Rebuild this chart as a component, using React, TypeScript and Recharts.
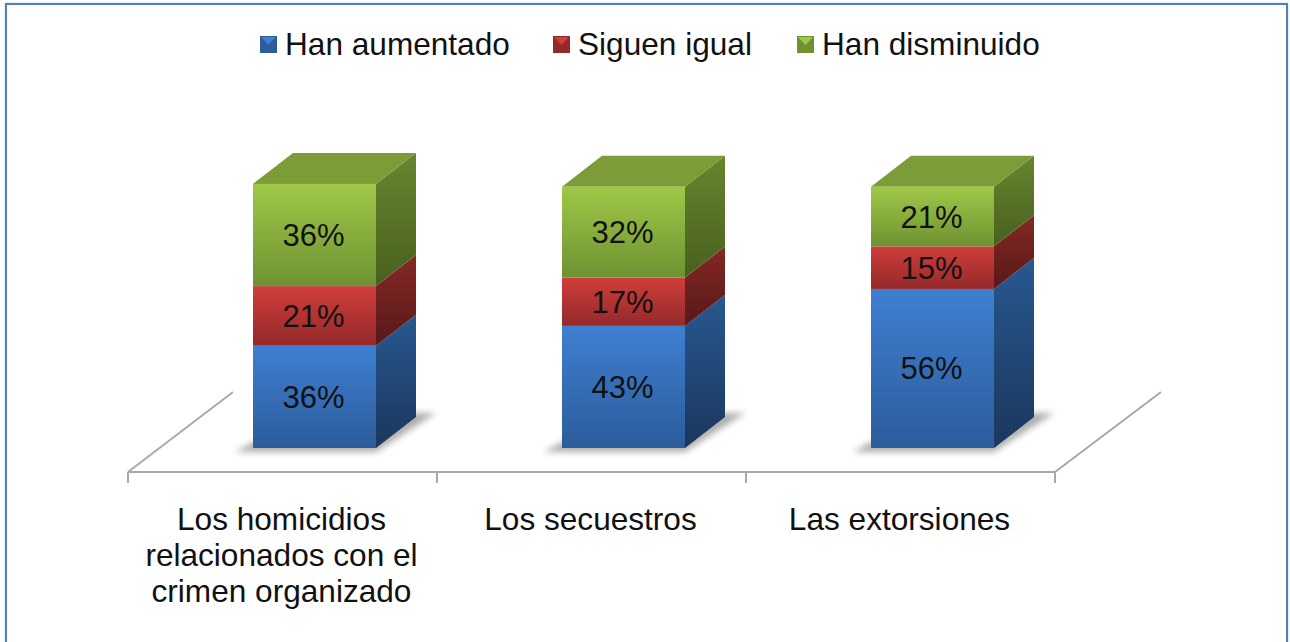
import { Bar, BarChart, LabelList, Legend, XAxis, YAxis } from "recharts";

const categories = [
  "Los homicidios relacionados con el crimen organizado",
  "Los secuestros",
  "Las extorsiones",
];
const categoryLines = [
  ["Los homicidios", "relacionados con el", "crimen organizado"],
  ["Los secuestros"],
  ["Las extorsiones"],
];

const aumentado = [36, 43, 56];
const igual = [21, 17, 15];
const disminuido = [36, 32, 21];

const seriesNames = ["Han aumentado", "Siguen igual", "Han disminuido"];
const seriesKeys = ["aumentado", "igual", "disminuido"];

// front top, front bottom, side top, side bottom, top face
const seriesColors = [
  ["#3F7FD1", "#2C5C9B", "#285890", "#1B375D", "#2E5F9E"],
  ["#CF3E3B", "#95292A", "#852824", "#571919", "#A53030"],
  ["#9FC847", "#6E9232", "#66862E", "#48601F", "#7B9C36"],
];

const data = categories.map((name, i) => ({
  name,
  aumentado: aumentado[i],
  igual: igual[i],
  disminuido: disminuido[i],
}));

const FONT = "'Liberation Sans', Arial, sans-serif";
const FONT_SIZE = 31.6;
const AXIS_GRAY = "#A8A8A8";

// the plot floor sits below and to the left of the boxes, like the old 3D office charts
const BAND = 309;
const SHIFT_X = 32;
const LIFT_Y = 24;
const DEPTH_X = 40;
const DEPTH_Y = 31;

function makeBox(index: number) {
  const isFirst = index === 0;
  const isLast = index === seriesKeys.length - 1;

  return function Box(props: any) {
    const x = props.x + SHIFT_X;
    const y = props.y - LIFT_Y;
    const { width, height } = props;
    const right = x + width;
    const bottom = y + height;

    return (
      <g>
        {isFirst && (
          <polygon
            points={`${x - 18},${bottom + 4} ${right},${bottom + 4} ${right + 60},${bottom - 35} ${right + 36},${bottom - 35} ${right},${bottom - 8} ${x},${bottom - 6}`}
            fill="#777"
            opacity={0.6}
            filter="url(#boxShadow)"
          />
        )}
        <polygon
          points={`${right},${y} ${right + DEPTH_X},${y - DEPTH_Y} ${right + DEPTH_X},${bottom - DEPTH_Y} ${right},${bottom}`}
          fill={`url(#side${index})`}
        />
        {isLast && (
          <polygon
            points={`${x},${y} ${x + DEPTH_X},${y - DEPTH_Y} ${right + DEPTH_X},${y - DEPTH_Y} ${right},${y}`}
            fill={seriesColors[index][4]}
          />
        )}
        <rect x={x} y={y} width={width} height={height} fill={`url(#front${index})`} />
      </g>
    );
  };
}

function BoxLabel(props: any) {
  const { x, y, width, height, value } = props;
  return (
    <text
      x={x + SHIFT_X + width / 2 - 1}
      y={y - LIFT_Y + height / 2 + 11}
      textAnchor="middle"
      fontFamily={FONT}
      fontSize={31}
      fill="#111"
    >
      {value}%
    </text>
  );
}

function CategoryTick(props: any) {
  const { x, y, index } = props;
  const lines = categoryLines[index];
  return (
    <g>
      <line x1={x - BAND / 2} y1={y} x2={x - BAND / 2} y2={y + 11} stroke={AXIS_GRAY} strokeWidth={2} />
      {index === categories.length - 1 && (
        <line x1={x + BAND / 2} y1={y} x2={x + BAND / 2} y2={y + 11} stroke={AXIS_GRAY} strokeWidth={2} />
      )}
      <text textAnchor="middle" fontFamily={FONT} fontSize={FONT_SIZE} fill="#111">
        {lines.map((line, i) => (
          <tspan key={line} x={x - 1} y={y + 58 + i * 36}>
            {line}
          </tspan>
        ))}
      </text>
    </g>
  );
}

function LegendIcon({ index }: { index: number }) {
  const c = seriesColors[index];
  return (
    <svg width={17} height={17} style={{ display: "block" }}>
      <rect width={17} height={17} fill={c[1]} />
      <polygon points="1,1 16,1 8.5,9" fill={c[0]} />
    </svg>
  );
}

const legendLeft = [260, 553, 797];

function TopLegend() {
  return (
    <div style={{ position: "relative", height: 60, width: 1290 }}>
      {seriesNames.map((name, i) => (
        <div
          key={name}
          style={{
            position: "absolute",
            left: legendLeft[i],
            top: 25,
            display: "flex",
            alignItems: "center",
            gap: 8,
            fontFamily: FONT,
            fontSize: FONT_SIZE,
            lineHeight: "38px",
            color: "#111",
            whiteSpace: "nowrap",
          }}
        >
          <LegendIcon index={i} />
          <span>{name}</span>
        </div>
      ))}
    </div>
  );
}

export default function App() {
  return (
    <div style={{ position: "absolute", left: 0, top: 0, width: 1290, height: 642, background: "#fff", overflow: "hidden" }}>
      {/* Frame round the pasted chart */}
      <div
        style={{
          position: "absolute",
          left: 5,
          top: 3,
          width: 1279,
          height: 660,
          border: "2px solid #4F81BD",
          boxShadow: "0 0 2px #B9CDE6",
        }}
      />
      <BarChart
        width={1290}
        height={642}
        data={data}
        margin={{ top: 128, right: 235, bottom: 0, left: 128 }}
        barCategoryGap={0}
        style={{ position: "absolute", left: 0, top: 0 }}
      >
        <defs>
          <filter id="boxShadow" x="-20%" y="-50%" width="140%" height="200%">
            <feGaussianBlur stdDeviation="3" />
          </filter>
          {seriesColors.map((c, i) => (
            <linearGradient key={`front${i}`} id={`front${i}`} x1="0" y1="0" x2="0" y2="1">
              <stop offset="0%" stopColor={c[0]} />
              <stop offset="100%" stopColor={c[1]} />
            </linearGradient>
          ))}
          {seriesColors.map((c, i) => (
            <linearGradient key={`side${i}`} id={`side${i}`} x1="0" y1="0" x2="0" y2="1">
              <stop offset="0%" stopColor={c[2]} />
              <stop offset="100%" stopColor={c[3]} />
            </linearGradient>
          ))}
        </defs>

        {/* Floor edges going back */}
        <line x1={128} y1={472} x2={233} y2={392} stroke={AXIS_GRAY} strokeWidth={2} />
        <line x1={1055} y1={472} x2={1161} y2={392} stroke={AXIS_GRAY} strokeWidth={2} />

        <XAxis
          dataKey="name"
          height={170}
          interval={0}
          axisLine={{ stroke: AXIS_GRAY, strokeWidth: 2 }}
          tickLine={false}
          tickMargin={0}
          tickSize={0}
          tick={<CategoryTick />}
        />
        <YAxis hide domain={[0, 100]} />
        <Legend verticalAlign="top" content={<TopLegend />} wrapperStyle={{ left: 0, top: 0, width: 1290 }} />

        {seriesKeys.map((key, i) => (
          <Bar
            key={key}
            dataKey={key}
            name={seriesNames[i]}
            stackId="total"
            barSize={123}
            shape={makeBox(i)}
            isAnimationActive={false}
          >
            <LabelList dataKey={key} content={<BoxLabel />} />
          </Bar>
        ))}
      </BarChart>
    </div>
  );
}
